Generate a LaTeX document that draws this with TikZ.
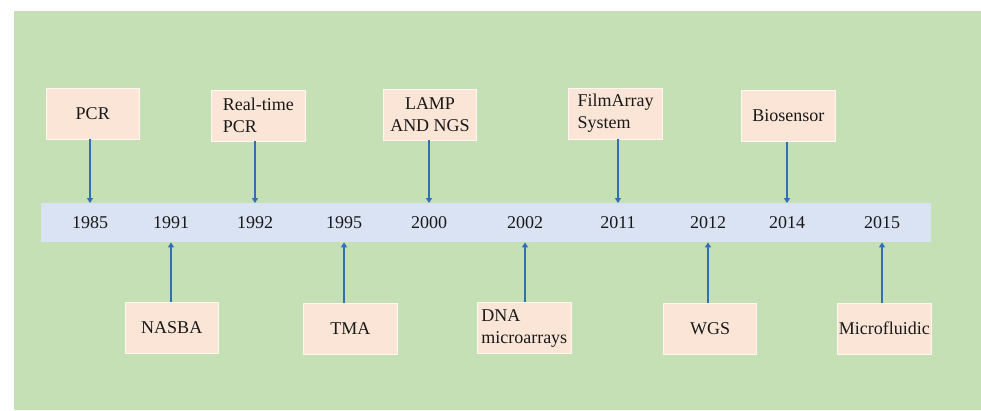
\documentclass[tikz,border=0pt]{standalone}
\usepackage{fontspec}
\setmainfont{Liberation Serif}
\usetikzlibrary{arrows.meta}
\definecolor{bggreen}{RGB}{197,224,180}
\definecolor{barblue}{RGB}{218,227,243}
\definecolor{boxpeach}{RGB}{251,229,214}
\definecolor{arrblue}{RGB}{50,110,180}
\tikzset{
  evbox/.style={rectangle, fill=boxpeach, draw=white!70!boxpeach, line width=0.8pt,
    minimum width=93.5pt, minimum height=51pt, inner sep=0pt,
    font=\fontsize{18}{22}\selectfont, text=black!90},
  yr/.style={font=\fontsize{18}{21}\selectfont, text=black!90, inner sep=0pt},
  arr/.style={draw=arrblue, line width=2pt, -{Triangle[width=6pt,length=5pt]}}
}
\begin{document}
\begin{tikzpicture}[x=1pt,y=-1pt]
\useasboundingbox (0,0) rectangle (981,410);
\fill[white] (0,0) rectangle (981,410);
\fill[bggreen] (13.5,10.5) rectangle (981,410);
% timeline bar
\node[rectangle, fill=barblue, minimum width=890pt, minimum height=39pt, inner sep=0pt, anchor=north west] (bar) at (40.5,203) {};
% years
\node[yr] (y1985) at (90,222.5) {1985};
\node[yr] (y1991) at (171,222.5) {1991};
\node[yr] (y1992) at (255,222.5) {1992};
\node[yr] (y1995) at (344,222.5) {1995};
\node[yr] (y2000) at (429,222.5) {2000};
\node[yr] (y2002) at (525,222.5) {2002};
\node[yr] (y2011) at (618,222.5) {2011};
\node[yr] (y2012) at (708,222.5) {2012};
\node[yr] (y2014) at (787,222.5) {2014};
\node[yr] (y2015) at (882,222.5) {2015};
% top boxes
\node[evbox] (pcr) at (92.75,113.5) {PCR};
\node[evbox, align=left] (rt) at (258.25,115.5) {Real-time\\PCR};
\node[evbox, align=center] (lamp) at (430,114.5) {LAMP\\AND NGS};
\node[evbox, align=left] (film) at (615.5,113.5) {FilmArray\\System};
\node[evbox] (bio) at (788.25,116) {Biosensor};
% bottom boxes
\node[evbox] (nasba) at (171.75,328) {NASBA};
\node[evbox] (tma) at (350.25,328.5) {TMA};
\node[evbox, align=left] (dna) at (524.25,328) {DNA\\microarrays};
\node[evbox] (wgs) at (710,328.5) {WGS};
\node[evbox] (micro) at (884.25,328.5) {Microfluidic};
% arrows
\draw[arr] (pcr.south -| y1985) -- (y1985 |- bar.north);
\draw[arr] (rt.south -| y1992) -- (y1992 |- bar.north);
\draw[arr] (lamp.south -| y2000) -- (y2000 |- bar.north);
\draw[arr] (film.south -| y2011) -- (y2011 |- bar.north);
\draw[arr] (bio.south -| y2014) -- (y2014 |- bar.north);
\draw[arr] (nasba.north -| y1991) -- (y1991 |- bar.south);
\draw[arr] (tma.north -| y1995) -- (y1995 |- bar.south);
\draw[arr] (dna.north -| y2002) -- (y2002 |- bar.south);
\draw[arr] (wgs.north -| y2012) -- (y2012 |- bar.south);
\draw[arr] (micro.north -| y2015) -- (y2015 |- bar.south);
\end{tikzpicture}
\end{document}
